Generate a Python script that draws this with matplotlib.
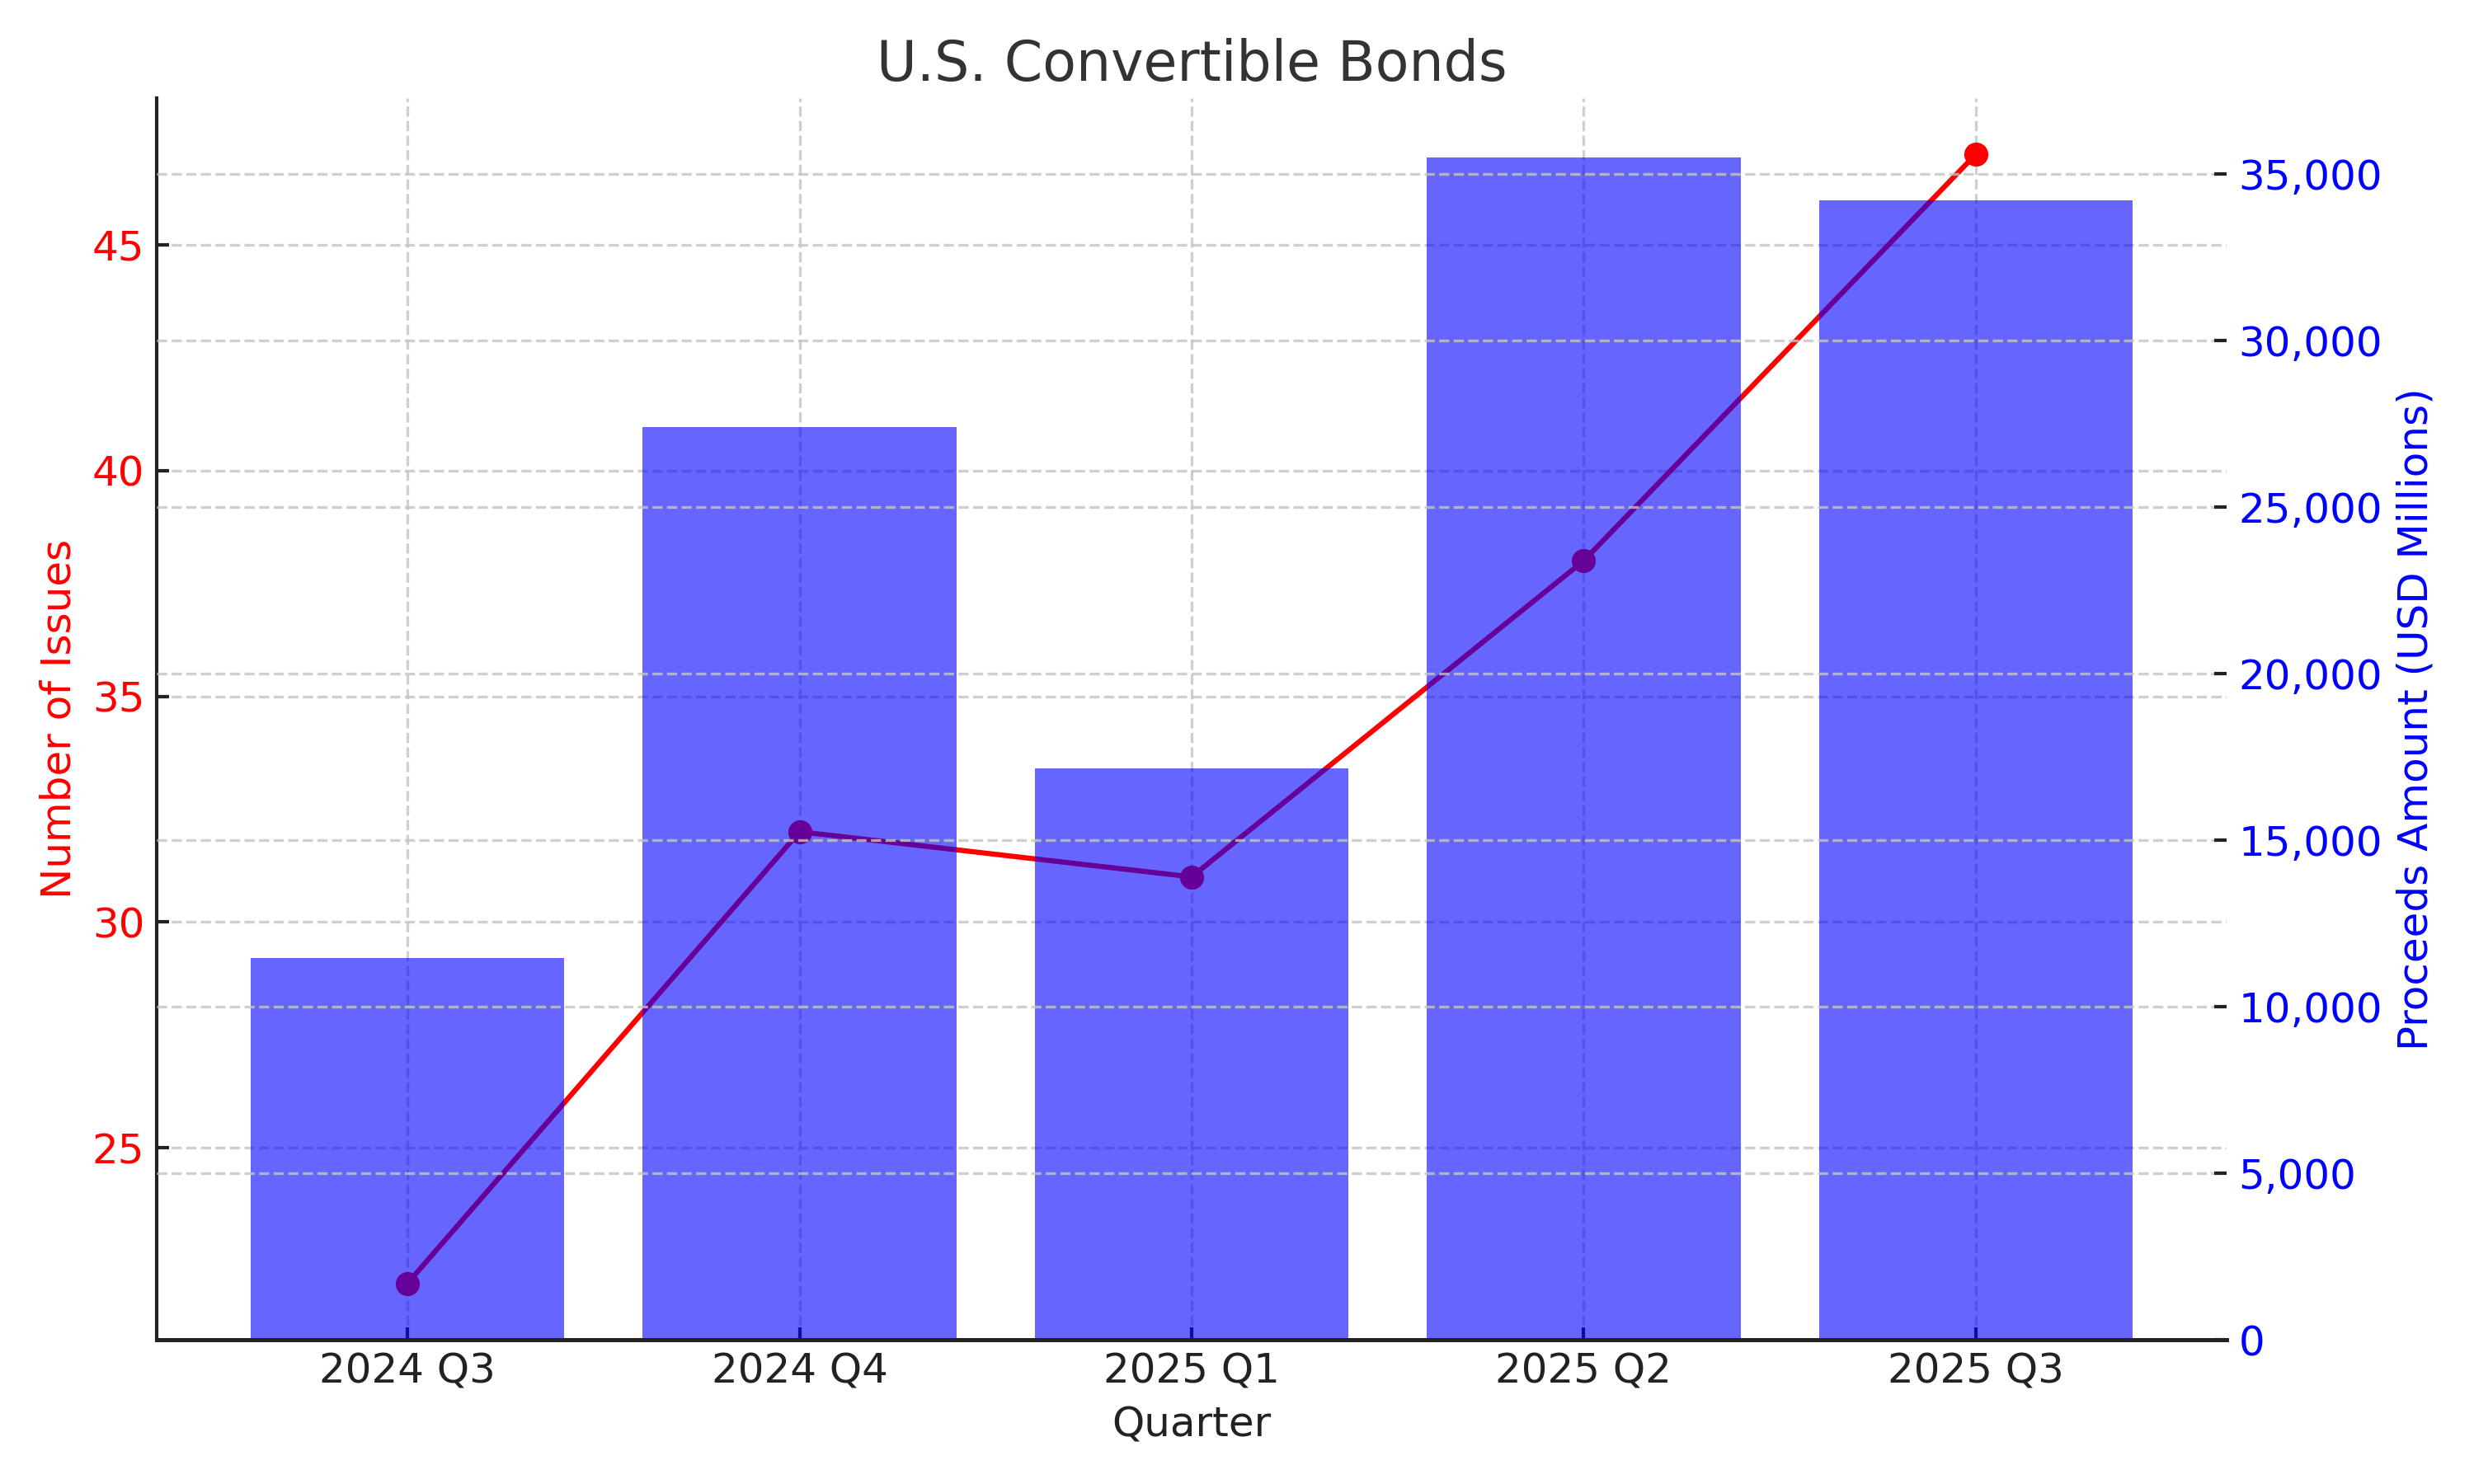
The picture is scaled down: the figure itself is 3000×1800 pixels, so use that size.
import matplotlib
matplotlib.use('Agg')
import matplotlib.pyplot as plt
from matplotlib.ticker import FuncFormatter

quarters = ['2024 Q3', '2024 Q4', '2025 Q1', '2025 Q2', '2025 Q3']
num_issues = [22, 32, 31, 38, 47]
proceeds = [11460, 27400, 17160, 35500, 34200]

plt.rcParams['font.family'] = 'DejaVu Sans'
plt.rcParams['xtick.direction'] = 'in'
plt.rcParams['ytick.direction'] = 'in'

fig, ax1 = plt.subplots(figsize=(10, 6), dpi=300)
fig.subplots_adjust(left=0.0633, right=0.9, bottom=0.0972, top=0.934)

# number of issues (left axis)
ax1.plot(quarters, num_issues, color='red', marker='o', linewidth=1.5, markersize=6)
ax1.set_xlabel('Quarter', fontsize=12, color='#222222')
ax1.set_ylabel('Number of Issues', fontsize=12, color='red')
ax1.tick_params(axis='y', labelcolor='red', labelsize=12, color='#222222', width=1)
ax1.tick_params(axis='x', labelsize=12, labelcolor='#222222', color='#222222', width=1)
ax1.grid(True, linestyle='--', color='#c4c4c4', alpha=0.8, linewidth=0.8)

# proceeds (right axis), bars drawn over the line
ax2 = ax1.twinx()
ax2.bar(quarters, proceeds, color='blue', alpha=0.6, width=0.8)
ax2.set_ylabel('Proceeds Amount (USD Millions)', fontsize=12, color='blue')
ax2.tick_params(axis='y', labelcolor='blue', labelsize=12, color='#222222', width=1)
ax2.yaxis.set_major_formatter(FuncFormatter(lambda v, p: '{:,.0f}'.format(v)))
ax2.grid(True, axis='y', linestyle='--', color='#c4c4c4', alpha=0.8, linewidth=0.8)

for ax in (ax1, ax2):
    ax.spines['top'].set_visible(False)
    ax.spines['right'].set_visible(False)
ax2.spines['left'].set_visible(False)
ax1.spines['left'].set_color('#222222')
ax1.spines['left'].set_linewidth(1.0)
for ax in (ax1, ax2):
    ax.spines['bottom'].set_color('#222222')
    ax.spines['bottom'].set_linewidth(1.2)

ax1.set_title('U.S. Convertible Bonds', fontsize=16, color='#333333', pad=5)

fig.savefig('out.png', dpi=300)
